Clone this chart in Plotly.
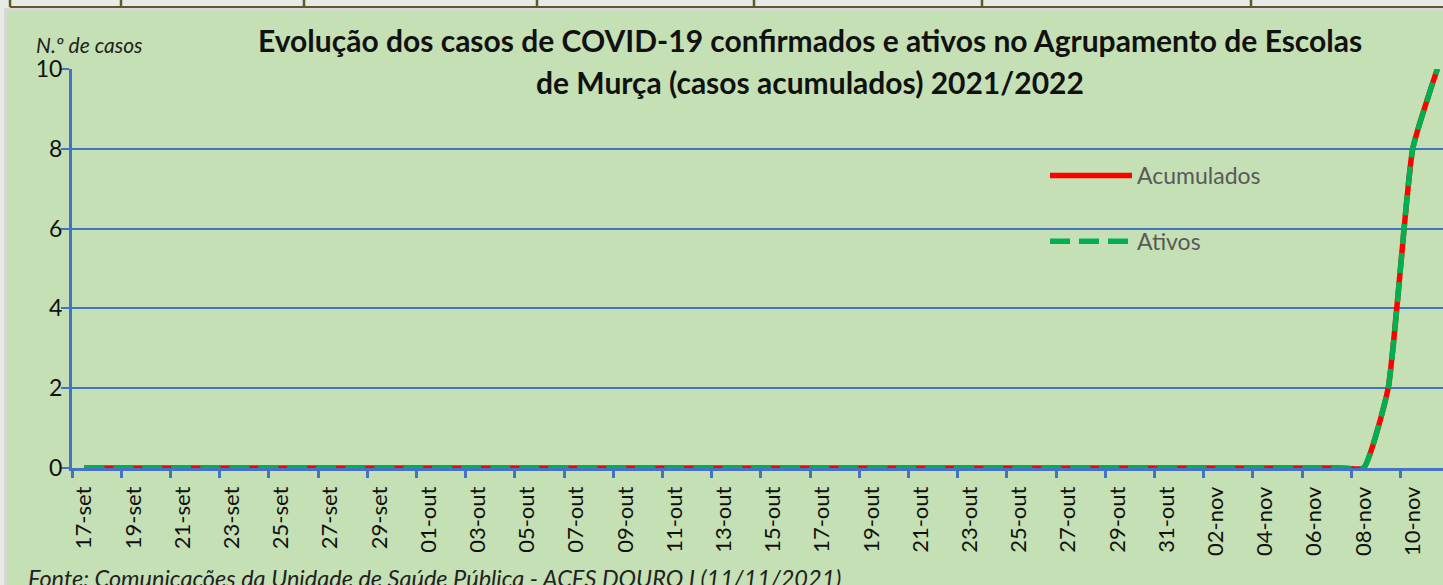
import plotly.graph_objects as go

# ---------------- data ----------------
dias = [
    "17-set", "18-set", "19-set", "20-set", "21-set", "22-set", "23-set", "24-set",
    "25-set", "26-set", "27-set", "28-set", "29-set", "30-set",
    "01-out", "02-out", "03-out", "04-out", "05-out", "06-out", "07-out", "08-out",
    "09-out", "10-out", "11-out", "12-out", "13-out", "14-out", "15-out", "16-out",
    "17-out", "18-out", "19-out", "20-out", "21-out", "22-out", "23-out", "24-out",
    "25-out", "26-out", "27-out", "28-out", "29-out", "30-out", "31-out",
    "01-nov", "02-nov", "03-nov", "04-nov", "05-nov", "06-nov", "07-nov", "08-nov",
    "09-nov", "10-nov", "11-nov",
]
acumulados = [
    0, 0, 0, 0, 0, 0, 0, 0, 0, 0, 0, 0, 0, 0,
    0, 0, 0, 0, 0, 0, 0, 0, 0, 0, 0, 0, 0, 0, 0, 0, 0,
    0, 0, 0, 0, 0, 0, 0, 0, 0, 0, 0, 0, 0, 0,
    0, 0, 0, 0, 0, 0, 0, 0,
    2, 8, 10,
]
ativos = [
    0, 0, 0, 0, 0, 0, 0, 0, 0, 0, 0, 0, 0, 0,
    0, 0, 0, 0, 0, 0, 0, 0, 0, 0, 0, 0, 0, 0, 0, 0, 0,
    0, 0, 0, 0, 0, 0, 0, 0, 0, 0, 0, 0, 0, 0,
    0, 0, 0, 0, 0, 0, 0, 0,
    2, 8, 10,
]
titulo_1 = "Evolução dos casos de COVID-19 confirmados e ativos no Agrupamento de Escolas"
titulo_2 = "de Murça (casos acumulados) 2021/2022"
titulo_y = "N.º de casos"
fonte = "Fonte: Comunicações da Unidade de Saúde Pública - ACES DOURO I (11/11/2021)"

# ---------------- layout helpers ----------------
W, H = 1443, 585
ML, MR, MT, MB = 72, 0, 69, 117
PW = W - ML - MR
PH = H - MT - MB


def px2x(px):
    return (px - ML) / PW


def px2y(py):
    return (H - MB - py) / PH


FONT = "Lato"
BLUE = "#4472C4"
GREEN_BG = "#C5E0B4"

fig = go.Figure()
fig.add_trace(go.Scatter(
    x=dias, y=acumulados, name="Acumulados", mode="lines",
    line=dict(color="#FF0000", width=5.5, shape="spline", smoothing=0.45),
    legendgroup="a",
))
fig.add_trace(go.Scatter(
    x=dias, y=ativos, name="Ativos", mode="lines",
    line=dict(color="#00B050", width=5.5, dash="20px,9px", shape="spline", smoothing=0.45),
    legendgroup="b",
))

shapes = []
# Excel sheet strip at the top
shapes.append(dict(type="rect", xref="paper", yref="paper",
                   x0=px2x(0), x1=px2x(W), y0=px2y(0), y1=px2y(8),
                   fillcolor="#E6EBE5", line=dict(width=0), layer="below"))
shapes.append(dict(type="rect", xref="paper", yref="paper",
                   x0=px2x(0), x1=px2x(W), y0=px2y(8), y1=px2y(11),
                   fillcolor="#D6D8D4", line=dict(width=0), layer="below"))
shapes.append(dict(type="rect", xref="paper", yref="paper",
                   x0=px2x(0), x1=px2x(4), y0=px2y(8), y1=px2y(H),
                   fillcolor="#E6EBE5", line=dict(width=0), layer="below"))
shapes.append(dict(type="rect", xref="paper", yref="paper",
                   x0=px2x(4), x1=px2x(7), y0=px2y(11), y1=px2y(H),
                   fillcolor="#D6D8D4", line=dict(width=0), layer="below"))
shapes.append(dict(type="line", xref="paper", yref="paper",
                   x0=px2x(10), x1=px2x(W), y0=px2y(7), y1=px2y(7),
                   line=dict(color="#5F5A2A", width=2), layer="below"))
for cx in [10, 121, 304, 537, 754, 982, 1251]:
    shapes.append(dict(type="line", xref="paper", yref="paper",
                       x0=px2x(cx), x1=px2x(cx), y0=px2y(0), y1=px2y(7),
                       line=dict(color="#5F5A2A", width=2.5), layer="below"))

annotations = [
    dict(text="<b>" + titulo_1 + "</b>", xref="paper", yref="paper",
         x=px2x(810), y=px2y(40), xanchor="center", yanchor="middle",
         showarrow=False, font=dict(family=FONT, size=30, color="#111111")),
    dict(text="<b>" + titulo_2 + "</b>", xref="paper", yref="paper",
         x=px2x(810), y=px2y(82), xanchor="center", yanchor="middle",
         showarrow=False, font=dict(family=FONT, size=30, color="#111111")),
    dict(text="<i>" + titulo_y + "</i>", xref="paper", yref="paper",
         x=px2x(34), y=px2y(44), xanchor="left", yanchor="middle",
         showarrow=False, font=dict(family=FONT, size=21, color="#222222")),
    dict(text="<i>" + fonte + "</i>", xref="paper", yref="paper",
         x=px2x(26), y=px2y(578), xanchor="left", yanchor="middle",
         showarrow=False, font=dict(family=FONT, size=23.5, color="#222222")),
]

fig.update_layout(
    width=W, height=H,
    margin=dict(l=ML, r=MR, t=MT, b=MB, pad=0),
    paper_bgcolor=GREEN_BG, plot_bgcolor=GREEN_BG,
    font=dict(family=FONT, color="#111111"),
    showlegend=True,
    legend=dict(
        x=px2x(1045), y=px2y(154), xanchor="left", yanchor="top",
        bgcolor="rgba(0,0,0,0)", borderwidth=0,
        font=dict(family=FONT, size=23, color="#595959"),
        traceorder="grouped", tracegroupgap=33, itemwidth=82,
    ),
    shapes=shapes,
    annotations=annotations,
)
fig.update_xaxes(
    type="category", range=[-0.5, 55.23],
    tickson="boundaries", tick0=0, dtick=2,
    ticks="outside", ticklen=7, tickwidth=2.5, tickcolor=BLUE,
    ticklabelstandoff=7,
    tickangle=-90, tickfont=dict(family=FONT, size=22, color="#111111"),
    showgrid=False, showline=True, linecolor=BLUE, linewidth=2.5,
    zeroline=False,
)
fig.update_yaxes(
    range=[0, 10], tick0=0, dtick=2,
    ticks="outside", ticklen=8, tickwidth=2, tickcolor=BLUE,
    ticklabelstandoff=-6,
    tickfont=dict(family=FONT, size=23, color="#111111"),
    showgrid=True, gridcolor=BLUE, gridwidth=2,
    showline=True, linecolor=BLUE, linewidth=3,
    zeroline=False,
)

fig.write_html("out.html", config={"displayModeBar": False},
               post_script="document.body.style.margin='0';")
